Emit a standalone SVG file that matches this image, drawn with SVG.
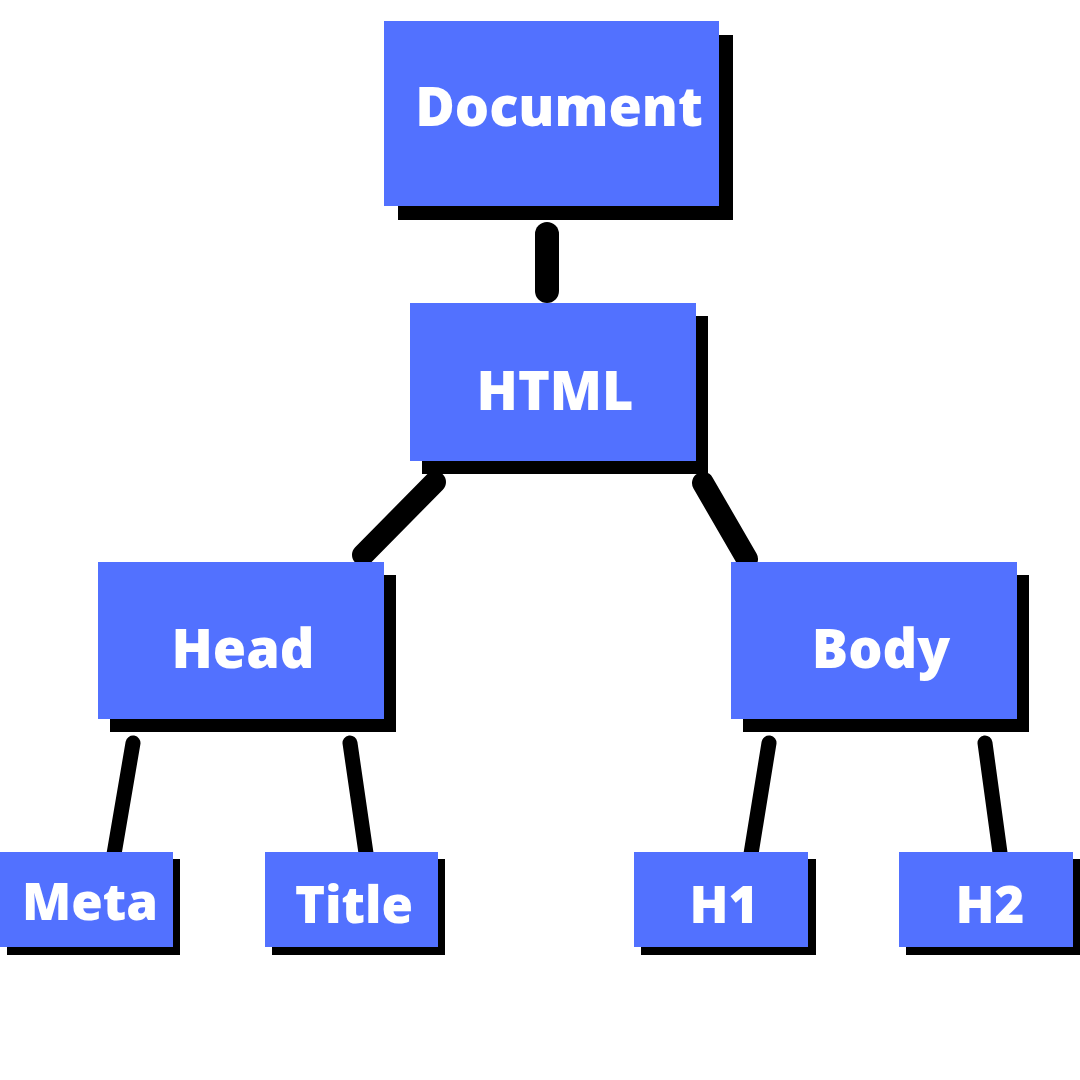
<svg xmlns="http://www.w3.org/2000/svg" width="1080" height="1080" viewBox="0 0 1080 1080">
<style>
.box{fill:#5271ff}
.sh{fill:#000}
.lbl{fill:#fff;font-family:"Open Sans","Noto Sans",sans-serif;font-weight:800;text-anchor:middle}
.c{stroke:#000;stroke-linecap:round;fill:none}
</style>
<rect width="1080" height="1080" fill="#fff"/>
<g id="connectors">
<line class="c" x1="547" y1="234" x2="547" y2="291" stroke-width="24"/>
<line class="c" x1="435" y1="482" x2="363" y2="555" stroke-width="22"/>
<line class="c" x1="703" y1="483" x2="747" y2="559" stroke-width="22"/>
<line class="c" x1="133" y1="743" x2="113" y2="860" stroke-width="15"/>
<line class="c" x1="350" y1="743" x2="367" y2="860" stroke-width="15"/>
<line class="c" x1="769" y1="743" x2="750" y2="860" stroke-width="15"/>
<line class="c" x1="985" y1="743" x2="1001" y2="860" stroke-width="15"/>
</g>
<g id="document">
<rect class="sh" x="398" y="35" width="335" height="185"/>
<rect class="box" x="384" y="21" width="335" height="185"/>
<text class="lbl" x="559" y="126" font-size="54">Document</text>
</g>
<g id="html">
<rect class="sh" x="422" y="316" width="286" height="158"/>
<rect class="box" x="410" y="303" width="286" height="158"/>
<text class="lbl" x="555" y="410" font-size="54">HTML</text>
</g>
<g id="head">
<rect class="sh" x="110" y="575" width="286" height="157"/>
<rect class="box" x="98" y="562" width="286" height="157"/>
<text class="lbl" x="243" y="668" font-size="54">Head</text>
</g>
<g id="body">
<rect class="sh" x="743" y="575" width="286" height="157"/>
<rect class="box" x="731" y="562" width="286" height="157"/>
<text class="lbl" x="881" y="668" font-size="54">Body</text>
</g>
<g id="meta">
<rect class="sh" x="7" y="859" width="173" height="96"/>
<rect class="box" x="0" y="852" width="173" height="95"/>
<text class="lbl" x="90" y="920" font-size="51">Meta</text>
</g>
<g id="title">
<rect class="sh" x="272" y="859" width="173" height="96"/>
<rect class="box" x="265" y="852" width="173" height="95"/>
<text class="lbl" x="354" y="923" font-size="51">Title</text>
</g>
<g id="h1">
<rect class="sh" x="641" y="859" width="175" height="96"/>
<rect class="box" x="634" y="852" width="174" height="95"/>
<text class="lbl" x="724" y="923" font-size="51">H1</text>
</g>
<g id="h2">
<rect class="sh" x="906" y="859" width="174" height="96"/>
<rect class="box" x="899" y="852" width="174" height="95"/>
<text class="lbl" x="990" y="923" font-size="51">H2</text>
</g>
</svg>
